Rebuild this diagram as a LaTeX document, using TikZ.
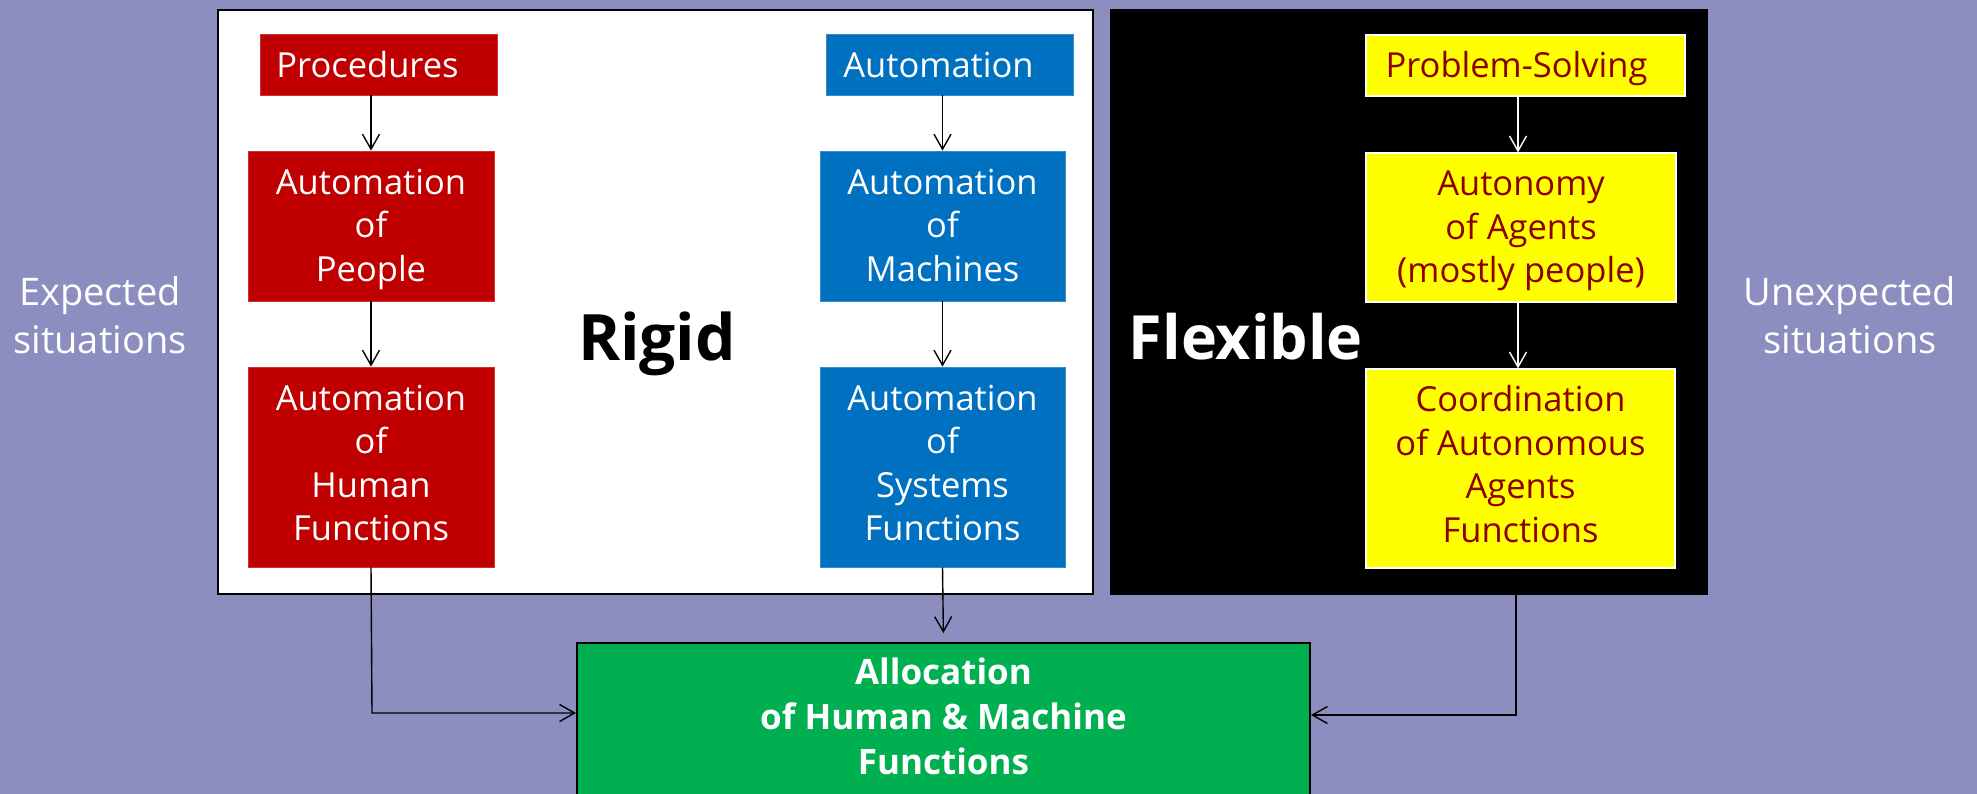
\documentclass[tikz,border=0pt]{standalone}
\usepackage{fontspec}
\setmainfont{Open Sans}
\usetikzlibrary{arrows.meta}
\definecolor{bgc}{RGB}{140,142,191}
\definecolor{redc}{RGB}{192,0,0}
\definecolor{bluec}{RGB}{0,112,192}
\definecolor{greenc}{RGB}{0,176,80}
\definecolor{yelc}{RGB}{255,255,0}
\definecolor{maroonc}{RGB}{140,0,0}
\newcommand{\boxlines}[1]{\begin{tabular}[t]{@{}c@{}}#1\end{tabular}}
\begin{document}
\begin{tikzpicture}[x=1pt,y=-1pt,
  lbl/.style={anchor=base,inner sep=0pt,yshift=-43.5pt,font=\fontsize{34.5}{43.5}\selectfont},
  boxbase/.style={inner sep=0pt},
  redbox/.style={boxbase,fill=redc,draw=redc!80!white,line width=0.8pt},
  bluebox/.style={boxbase,fill=bluec,draw=bluec!80!white,line width=0.8pt},
  yelbox/.style={boxbase,fill=yelc,draw=white,line width=1.2pt},
  wlbl/.style={lbl,text=white},
  mlbl/.style={lbl,text=maroonc},
  arr/.style={line width=1.4pt,-{Straight Barb[length=15pt,width=17pt,line width=1.4pt]}},
  sidetext/.style={align=center,inner sep=0pt,text=white,font=\fontsize{38}{48}\selectfont},
  bigtext/.style={inner sep=0pt,font=\bfseries}]
\useasboundingbox (0,0) rectangle (1977,794);
\fill[bgc] (0,0) rectangle (1977,794);
% panels
\node[fill=white,draw=black,line width=2.5pt,minimum width=875,minimum height=584,inner sep=0pt] (rigidpanel) at (655.5,302) {};
\node[fill=black,minimum width=598,minimum height=586,inner sep=0pt] (flexpanel) at (1409,302) {};
\node[bigtext,text=black,font=\fontsize{64}{70}\selectfont\bfseries] (rigid) at (657,344) {Rigid};
\node[bigtext,text=white,font=\fontsize{61}{70}\selectfont\bfseries] (flexible) at (1246,337) {Flexible};
% side labels
\node[sidetext] (expected) at (100,315) {Expected\\situations};
\node[sidetext] (unexpected) at (1850,315) {Unexpected\\situations};
% red column
\node[redbox,minimum width=237,minimum height=61,label={[wlbl,xshift=-11pt]north:\boxlines{Procedures}}] (proc) at (378.5,64.5) {};
\node[redbox,minimum width=246,minimum height=150,label={[wlbl]north:\boxlines{Automation\\of\\People}}] (people) at (371,226) {};
\node[redbox,minimum width=246,minimum height=200,label={[wlbl]north:\boxlines{Automation\\of\\Human\\Functions}}] (humf) at (371,467) {};
% blue column
\node[bluebox,minimum width=247,minimum height=61,label={[wlbl,xshift=-11pt]north:\boxlines{Automation}}] (auto) at (949.5,64.5) {};
\node[bluebox,minimum width=245,minimum height=150,label={[wlbl]north:\boxlines{Automation\\of\\Machines}}] (mach) at (942.5,226) {};
\node[bluebox,minimum width=245,minimum height=200,label={[wlbl]north:\boxlines{Automation\\of\\Systems\\Functions}}] (sysf) at (942.5,467) {};
% yellow column
\node[yelbox,minimum width=319,minimum height=61,label={[mlbl,xshift=-9pt]north:\boxlines{Problem-Solving}}] (ps) at (1525.5,65.5) {};
\node[yelbox,minimum width=310,minimum height=149,label={[mlbl]north:\boxlines{Autonomy\\of Agents\\(mostly people)}}] (agents) at (1521,227.5) {};
\node[yelbox,minimum width=309,minimum height=199,label={[mlbl]north:\boxlines{Coordination\\of Autonomous\\Agents\\Functions}}] (coord) at (1520.5,468.5) {};
% allocation
\node[fill=greenc,draw=black,line width=2pt,minimum width=733,minimum height=200,inner sep=0pt,
  label={[anchor=base,inner sep=0pt,yshift=-42pt,text=white,font=\fontsize{35}{45}\selectfont\bfseries]north:\boxlines{Allocation\\of Human \& Machine\\Functions}}] (alloc) at (943.5,743) {};
% arrows inside panels
\draw[arr,black] (proc.south -| people.north) -- (people.north);
\draw[arr,black] (people.south) -- (humf.north);
\draw[arr,black] (auto.south -| mach.north) -- (mach.north);
\draw[arr,black] (mach.south) -- (sysf.north);
\coordinate (ycol) at (1518,0);
\draw[arr,white] (ps.south -| ycol) -- (agents.north -| ycol);
\draw[arr,white] (agents.south -| ycol) -- (coord.north -| ycol);
% arrows to allocation
\coordinate (lj) at (372,713);
\coordinate (rj) at (1516,715);
\draw[arr,black] (humf.south) -- (lj) -- (lj -| alloc.west);
\draw[arr,black,shorten >=9pt] (sysf.south) -- (alloc.north);
\draw[arr,black] (coord.south -| rj) -- (rj) -- (rj -| alloc.east);
\end{tikzpicture}
\end{document}
